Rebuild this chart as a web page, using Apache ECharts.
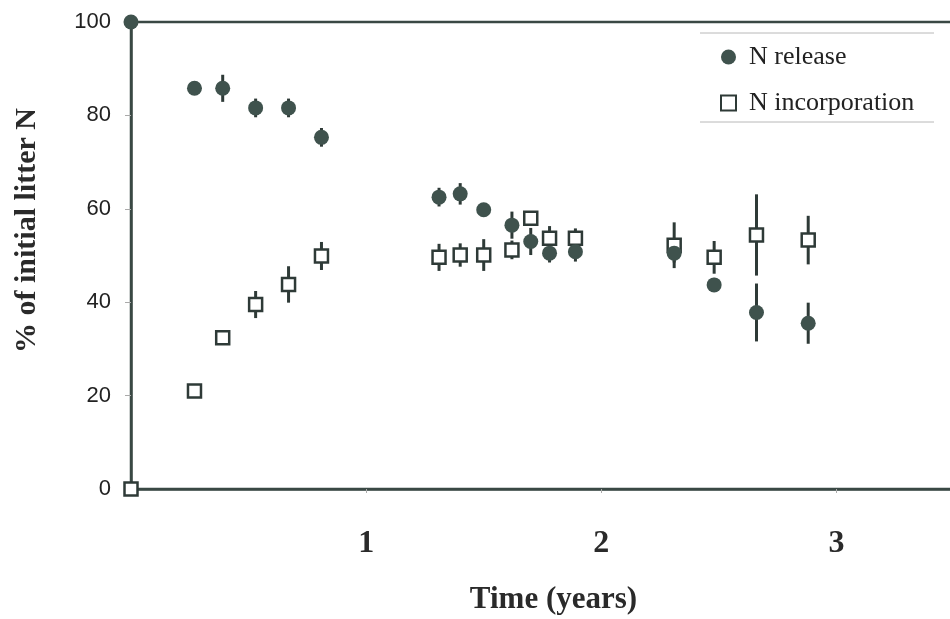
<!DOCTYPE html>
<html>
<head>
<meta charset="utf-8">
<script src="https://cdn.jsdelivr.net/npm/echarts@6/dist/echarts.min.js"></script>
<style>html,body{margin:0;padding:0;background:#fff;}#c{width:950px;height:619px;}</style>
</head>
<body>
<div id="c"></div>
<script>
var times = [0, 0.27, 0.39, 0.53, 0.67, 0.81, 1.31, 1.40, 1.50, 1.62, 1.70, 1.78, 1.89, 2.31, 2.48, 2.66, 2.88];
var releaseValues = [100, 85.8, 85.8, 81.6, 81.6, 75.3, 62.5, 63.2, 59.8, 56.5, 53.0, 50.5, 50.8, 50.5, 43.7, 37.8, 35.5];
var releaseErrors = [0, 1, 2.9, 2, 2, 2, 2, 2.3, 1, 2.9, 2.9, 2, 2.1, 2, 1.5, 6.2, 4.4];
var incorpValues = [0, 21.0, 32.4, 39.5, 43.8, 49.9, 49.6, 50.1, 50.1, 51.2, 58.0, 53.7, 53.7, 52.2, 49.6, 54.4, 53.3];
var incorpErrors = [0, 0, 1, 2.9, 3.9, 3.0, 2.9, 2.5, 3.4, 2, 1, 2.6, 2.1, 4.9, 3.5, 8.7, 5.2];
var yTicks = [0, 20, 40, 60, 80, 100];
var xTickLabels = ['1', '2', '3'];

var dark = '#3f524d';
var axisCol = '#3a4844';

function pts(vals) { return times.map(function (t, i) { return [t, vals[i]]; }); }
function errs(vals, e) { return times.map(function (t, i) { return [t, vals[i] - e[i], vals[i] + e[i]]; }); }

function errRender(params, api) {
  var lo = api.coord([api.value(0), api.value(1)]);
  var hi = api.coord([api.value(0), api.value(2)]);
  return { type: 'line', shape: { x1: lo[0], y1: lo[1], x2: hi[0], y2: hi[1] },
           style: { stroke: '#2e3a37', lineWidth: 3 } };
}

var chart = echarts.init(document.getElementById('c'), null, { renderer: 'canvas' });
chart.setOption({
  animation: false,
  backgroundColor: '#ffffff',
  grid: { left: 131, top: 22, bottom: 130, right: -4, outerBoundsMode: 'none', containLabel: false,
          show: true, borderColor: axisCol, borderWidth: 2.5, backgroundColor: 'transparent' },
  legend: {
    data: ['N release', 'N incorporation'],
    orient: 'vertical', left: 715, top: 39, itemGap: 20, itemWidth: 15, itemHeight: 15,
    textStyle: { fontFamily: 'Liberation Serif', fontSize: 26, color: '#222', padding: [0, 0, 0, 8] }
  },
  graphic: [
    { type: 'line', shape: { x1: 700, y1: 33, x2: 934, y2: 33 }, style: { stroke: '#b8b8b8', lineWidth: 1 } },
    { type: 'line', shape: { x1: 700, y1: 122, x2: 934, y2: 122 }, style: { stroke: '#b8b8b8', lineWidth: 1 } }
  ],
  xAxis: {
    type: 'value', min: 0, max: 3.5, interval: 1,
    name: 'Time (years)', nameLocation: 'middle', nameGap: 95,
    nameTextStyle: { fontFamily: 'Liberation Serif', fontWeight: 'bold', fontSize: 31, color: '#2a2a2a', padding: [0, 0, 0, 22] },
    axisLine: { show: true, lineStyle: { color: axisCol, width: 2.5 } },
    axisTick: { show: true, length: 4, lineStyle: { color: '#aaa', width: 1 } },
    splitLine: { show: false },
    axisLabel: {
      margin: 39, fontFamily: 'Liberation Serif', fontWeight: 'bold', fontSize: 32, color: '#2a2a2a',
      showMaxLabel: false,
      formatter: function (v) { var k = Math.round(v); return (k >= 1 && k <= xTickLabels.length && Math.abs(v - k) < 1e-6) ? xTickLabels[k - 1] : ''; }
    }
  },
  yAxis: {
    type: 'value', min: 0, max: 100, interval: 20,
    name: '% of initial litter N', nameLocation: 'middle', nameGap: 89, nameRotate: 90,
    nameTextStyle: { fontFamily: 'Liberation Serif', fontWeight: 'bold', fontSize: 30, color: '#2a2a2a', padding: [0, 0, 0, 50] },
    axisLine: { show: true, lineStyle: { color: axisCol, width: 2.5 } },
    axisTick: { show: true, length: 6, lineStyle: { color: '#aaa', width: 1 } },
    splitLine: { show: false },
    axisLabel: {
      margin: 20, fontFamily: 'Liberation Sans', fontSize: 22, color: '#222',
      formatter: function (v) { return yTicks.indexOf(v) >= 0 ? String(v) : ''; }
    }
  },
  series: [
    { type: 'custom', name: 'relErr', renderItem: errRender, data: errs(releaseValues, releaseErrors), encode: { x: 0, y: [1, 2] }, z: 2, silent: true },
    { type: 'custom', name: 'incErr', renderItem: errRender, data: errs(incorpValues, incorpErrors), encode: { x: 0, y: [1, 2] }, z: 2, silent: true },
    { type: 'scatter', name: 'N incorporation', data: pts(incorpValues), symbol: 'rect', symbolSize: 13,
      itemStyle: { color: '#ffffff', borderColor: '#2e3a37', borderWidth: 2.5, opacity: 1 }, z: 3 },
    { type: 'scatter', name: 'N release', data: pts(releaseValues), symbol: 'circle', symbolSize: 15,
      itemStyle: { color: dark, opacity: 1 }, z: 4 }
  ]
});
</script>
</body>
</html>
